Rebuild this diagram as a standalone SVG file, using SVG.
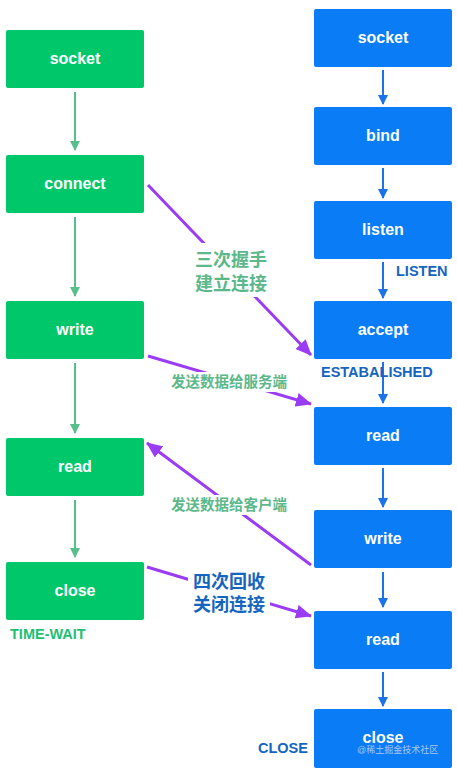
<svg xmlns="http://www.w3.org/2000/svg" width="457" height="770" viewBox="0 0 457 770">
<defs>
<style>
.g rect{fill:#00c86a}
.b rect{fill:#0a7cf6}
.nt{font-family:"Liberation Sans",Arial,sans-serif;font-weight:bold;font-size:16px;fill:#fff;text-anchor:middle}
.gl{stroke:#56bf8c;stroke-width:2;fill:none}
.bl{stroke:#1a73e8;stroke-width:2;fill:none}
.pl{stroke:#9b3cf5;stroke-width:3;fill:none}
.lab{font-family:"Liberation Sans","Noto Sans CJK SC",sans-serif;font-weight:bold}
</style>
<marker id="ag" markerWidth="10" markerHeight="10" refX="9" refY="5" orient="auto" markerUnits="userSpaceOnUse"><path d="M0,0 L10,5 L0,10 Z" fill="#56bf8c"/></marker>
<marker id="ab" markerWidth="10" markerHeight="10" refX="9" refY="5" orient="auto" markerUnits="userSpaceOnUse"><path d="M0,0 L10,5 L0,10 Z" fill="#1a73e8"/></marker>
<marker id="ap" markerWidth="16" markerHeight="14" refX="15" refY="7" orient="auto" markerUnits="userSpaceOnUse"><path d="M0,0 L16,7 L0,14 Z" fill="#9b3cf5"/></marker>
</defs>
<rect width="457" height="770" fill="#fff"/>
<g id="connectors">
<line class="gl" x1="75" y1="92" x2="75" y2="150" marker-end="url(#ag)"/>
<line class="gl" x1="75" y1="217" x2="75" y2="296" marker-end="url(#ag)"/>
<line class="gl" x1="75" y1="363" x2="75" y2="433" marker-end="url(#ag)"/>
<line class="gl" x1="75" y1="500" x2="75" y2="557" marker-end="url(#ag)"/>
<line class="bl" x1="383" y1="70" x2="383" y2="104" marker-end="url(#ab)"/>
<line class="bl" x1="383" y1="168" x2="383" y2="198" marker-end="url(#ab)"/>
<line class="bl" x1="383" y1="262" x2="383" y2="298" marker-end="url(#ab)"/>
<line class="bl" x1="383" y1="362" x2="383" y2="403" marker-end="url(#ab)"/>
<line class="bl" x1="383" y1="468" x2="383" y2="507" marker-end="url(#ab)"/>
<line class="bl" x1="383" y1="572" x2="383" y2="607" marker-end="url(#ab)"/>
<line class="bl" x1="383" y1="672" x2="383" y2="706" marker-end="url(#ab)"/>
<line class="pl" x1="148" y1="185" x2="311" y2="355" marker-end="url(#ap)"/>
<line class="pl" x1="148" y1="356" x2="311" y2="404" marker-end="url(#ap)"/>
<line class="pl" x1="311" y1="565" x2="147" y2="443" marker-end="url(#ap)"/>
<line class="pl" x1="147" y1="567" x2="311" y2="616" marker-end="url(#ap)"/>
<rect x="190" y="243" width="82" height="54" fill="#fff"/>
<rect x="166" y="372" width="126" height="20" fill="#fff"/>
<rect x="166" y="495" width="126" height="20" fill="#fff"/>
<rect x="188" y="568" width="82" height="50" fill="#fff"/>
<text class="lab" x="231" y="266" font-size="18" fill="#5cb88a" text-anchor="middle">三次握手</text>
<text class="lab" x="231" y="290" font-size="18" fill="#5cb88a" text-anchor="middle">建立连接</text>
<text class="lab" x="229" y="387" font-size="14.5" fill="#5cb88a" text-anchor="middle">发送数据给服务端</text>
<text class="lab" x="229" y="510" font-size="14.5" fill="#5cb88a" text-anchor="middle">发送数据给客户端</text>
<text class="lab" x="229" y="588" font-size="18" fill="#1565c0" text-anchor="middle">四次回收</text>
<text class="lab" x="229" y="611" font-size="18" fill="#1565c0" text-anchor="middle">关闭连接</text>
</g>
<g id="c-socket" class="g"><rect x="6" y="30" width="138" height="58" rx="2"/><text class="nt" x="75" y="64">socket</text></g>
<g id="c-connect" class="g"><rect x="6" y="155" width="138" height="58" rx="2"/><text class="nt" x="75" y="189">connect</text></g>
<g id="c-write" class="g"><rect x="6" y="301" width="138" height="58" rx="2"/><text class="nt" x="75" y="335">write</text></g>
<g id="c-read" class="g"><rect x="6" y="438" width="138" height="58" rx="2"/><text class="nt" x="75" y="472">read</text></g>
<g id="c-close" class="g"><rect x="6" y="562" width="138" height="58" rx="2"/><text class="nt" x="75" y="596">close</text></g>
<g id="s-socket" class="b"><rect x="314" y="9" width="138" height="58" rx="2"/><text class="nt" x="383" y="43">socket</text></g>
<g id="s-bind" class="b"><rect x="314" y="107" width="138" height="58" rx="2"/><text class="nt" x="383" y="141">bind</text></g>
<g id="s-listen" class="b"><rect x="314" y="201" width="138" height="58" rx="2"/><text class="nt" x="383" y="235">listen</text></g>
<g id="s-accept" class="b"><rect x="314" y="301" width="138" height="58" rx="2"/><text class="nt" x="383" y="335">accept</text></g>
<g id="s-read" class="b"><rect x="314" y="407" width="138" height="58" rx="2"/><text class="nt" x="383" y="441">read</text></g>
<g id="s-write" class="b"><rect x="314" y="510" width="138" height="58" rx="2"/><text class="nt" x="383" y="544">write</text></g>
<g id="s-read2" class="b"><rect x="314" y="611" width="138" height="58" rx="2"/><text class="nt" x="383" y="645">read</text></g>
<g id="s-close" class="b"><rect x="314" y="709" width="138" height="59" rx="2"/><text class="nt" x="383" y="743">close</text></g>
<g id="states" class="lab" font-size="14.5">
<text x="396" y="276" fill="#1565c0">LISTEN</text>
<text x="321" y="377" fill="#1565c0">ESTABALISHED</text>
<text x="10" y="639" fill="#1fbf73">TIME-WAIT</text>
<text x="258" y="753" fill="#1565c0">CLOSE</text>
</g>
<text x="357" y="753" font-family="'Liberation Sans','Noto Sans CJK SC',sans-serif" font-size="9" fill="#a8c8f0">@稀土掘金技术社区</text>
</svg>
